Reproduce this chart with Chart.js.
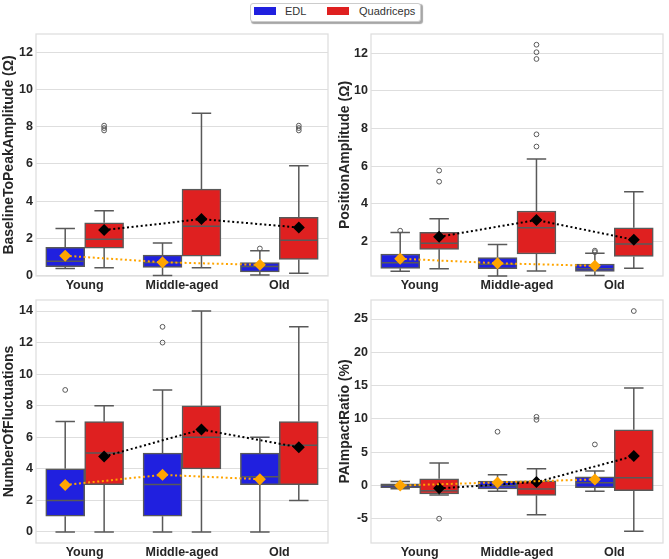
<!DOCTYPE html>
<html><head><meta charset="utf-8">
<script src="https://cdn.jsdelivr.net/npm/chart.js@4.4.0/dist/chart.umd.min.js"></script>
<style>
html,body{margin:0;padding:0;background:#fff;width:669px;height:559px;overflow:hidden;position:relative;font-family:"Liberation Sans",Arial,sans-serif}
canvas{position:absolute}
#legend{position:absolute;left:250px;top:3px;width:169px;height:17px;border:1px solid #cccccc;border-radius:3px;box-shadow:1.5px 1.5px 1px rgba(0,0,0,0.35);background:#fff;font-size:11px;color:#333}
.sw{position:absolute;top:3px;width:22px;height:8px}
.lt{position:absolute;top:1px;line-height:13px;white-space:nowrap}
</style></head><body>
<div id="legend"><span class="sw" style="left:3px;background:#2020df"></span><span class="lt" style="left:34px">EDL</span><span class="sw" style="left:76px;background:#df2020"></span><span class="lt" style="left:108px">Quadriceps</span></div>
<canvas id="c0" width="334" height="270" style="left:0px;top:24px"></canvas>
<canvas id="c1" width="335" height="270" style="left:334px;top:24px"></canvas>
<canvas id="c2" width="334" height="265" style="left:0px;top:294px"></canvas>
<canvas id="c3" width="335" height="265" style="left:334px;top:294px"></canvas>
<script>
const categories = ['Young', 'Middle-aged', 'Old'];
const seriesNames = ['EDL', 'Quadriceps'];

// Panel 1: BaselineToPeakAmplitude (Ω)
const bpTicks = [0, 2, 4, 6, 8, 10, 12];
const bpEdlLow = [0.38, 0.0, 0.02];
const bpEdlQ1 = [0.47, 0.43, 0.19];
const bpEdlMed = [0.77, 0.70, 0.48];
const bpEdlQ3 = [1.51, 1.09, 0.69];
const bpEdlHigh = [2.52, 1.74, 1.33];
const bpEdlOut = [[], [], [1.45]];
const bpEdlMean = [1.06, 0.71, 0.57];
const bpQuadLow = [0.41, 0.41, 0.12];
const bpQuadQ1 = [1.47, 1.04, 0.86];
const bpQuadMed = [1.95, 2.64, 1.90];
const bpQuadQ3 = [2.83, 4.64, 3.12];
const bpQuadHigh = [3.48, 8.73, 5.90];
const bpQuadOut = [[8.06, 7.93, 7.80], [], [8.06, 7.93, 7.80]];
const bpQuadMean = [2.44, 3.03, 2.58];

// Panel 2: PositionAmplitude (Ω)
const paTicks = [2, 4, 6, 8, 10, 12];
const paEdlLow = [0.40, 0.15, 0.18];
const paEdlQ1 = [0.56, 0.54, 0.39];
const paEdlMed = [0.85, 0.78, 0.54];
const paEdlQ3 = [1.32, 1.13, 0.79];
const paEdlHigh = [2.46, 1.82, 1.36];
const paEdlOut = [[2.56], [], [1.50, 1.42]];
const paEdlMean = [1.07, 0.83, 0.69];
const paQuadLow = [0.54, 0.42, 0.56];
const paQuadQ1 = [1.57, 1.32, 1.19];
const paQuadMed = [1.89, 2.72, 1.85];
const paQuadQ3 = [2.48, 3.61, 2.72];
const paQuadHigh = [3.20, 6.38, 4.64];
const paQuadOut = [[5.76, 5.17], [12.46, 12.06, 11.70, 7.69, 7.04], []];
const paQuadMean = [2.24, 3.13, 2.08];

// Panel 3: NumberOfFluctuations
const nfTicks = [0, 2, 4, 6, 8, 10, 12, 14];
const nfEdlLow = [0, 0, 0];
const nfEdlQ1 = [1, 1, 3];
const nfEdlMed = [2, 3, 3.5];
const nfEdlQ3 = [4, 5, 5];
const nfEdlHigh = [7, 9, 6];
const nfEdlOut = [[9], [12, 13], []];
const nfEdlMean = [2.98, 3.62, 3.34];
const nfQuadLow = [0, 0, 2];
const nfQuadQ1 = [3, 4, 3];
const nfQuadMed = [5, 6, 5.5];
const nfQuadQ3 = [7, 8, 7];
const nfQuadHigh = [8, 14, 13];
const nfQuadOut = [[], [], []];
const nfQuadMean = [4.78, 6.49, 5.37];

// Panel 4: PAImpactRatio (%)
const prTicks = [-5, 0, 5, 10, 15, 20, 25];
const prEdlLow = [-0.5, -0.9, -0.9];
const prEdlQ1 = [-0.35, -0.55, -0.35];
const prEdlMed = [0.0, -0.05, 0.4];
const prEdlQ3 = [0.25, 0.65, 1.3];
const prEdlHigh = [0.6, 1.6, 2.15];
const prEdlOut = [[], [8.06], [6.15]];
const prEdlMean = [-0.02, 0.45, 0.9];
const prQuadLow = [-1.45, -4.4, -6.9];
const prQuadQ1 = [-1.3, -1.5, -0.8];
const prQuadMed = [-0.8, -0.55, 1.15];
const prQuadQ3 = [1.0, 0.7, 8.35];
const prQuadHigh = [3.36, 2.5, 14.65];
const prQuadOut = [[-5.0], [10.3, 9.85], [26.2]];
const prQuadMean = [-0.45, 0.5, 4.4];

const EDL_COLOR = '#2020df';
const QUAD_COLOR = '#df2020';
const EDGE = '#595959';
const GRID = '#dedede';
const TEXT = '#262626';
const FONT = '"Liberation Sans", Arial, sans-serif';
Chart.defaults.font.family = FONT;

// series offset within a category (dodge): EDL left, Quadriceps right
const DODGE = [-0.2, 0.2];

const boxPlugin = {
  id: 'boxExtras',
  beforeDatasetsDraw(chart) {
    const a = chart.chartArea, ctx = chart.ctx;
    ctx.save();
    ctx.strokeStyle = GRID;
    ctx.lineWidth = 1.25;
    ctx.strokeRect(a.left, a.top, a.right - a.left, a.bottom - a.top);
    ctx.restore();
  },
  afterDatasetDraw(chart, args) {
    const ds = chart.data.datasets[args.index];
    if (!ds.stats) return;
    const s = ds.stats, y = chart.scales.y, ctx = chart.ctx;
    ctx.save();
    ctx.strokeStyle = EDGE;
    ctx.lineWidth = 1.5;
    args.meta.data.forEach((bar, i) => {
      const p = bar.getProps(['x', 'width'], true);
      const cx = p.x, hw = p.width / 2;
      const pq1 = y.getPixelForValue(s.q1[i]);
      const pq3 = y.getPixelForValue(s.q3[i]);
      const plo = y.getPixelForValue(s.low[i]);
      const phi = y.getPixelForValue(s.high[i]);
      const pmed = y.getPixelForValue(s.med[i]);
      ctx.beginPath();
      ctx.moveTo(cx, pq3); ctx.lineTo(cx, phi);
      ctx.moveTo(cx, pq1); ctx.lineTo(cx, plo);
      ctx.moveTo(cx - hw / 2, phi); ctx.lineTo(cx + hw / 2, phi);
      ctx.moveTo(cx - hw / 2, plo); ctx.lineTo(cx + hw / 2, plo);
      ctx.moveTo(cx - hw + 1, pmed); ctx.lineTo(cx + hw - 1, pmed);
      ctx.stroke();
    });
    ctx.restore();
  }
};

function makeChart(id, p) {
  const boxDs = (name, color, s, off) => ({
    type: 'bar', label: name,
    data: s.q1.map((v, i) => ({x: i + off, y: [v, s.q3[i]]})),
    backgroundColor: color, borderColor: EDGE, borderWidth: 1.5, borderSkipped: false,
    grouped: false, categoryPercentage: 1.0, barPercentage: 1.0,
    xAxisID: 'x', yAxisID: 'y', order: 5, stats: s
  });
  const outPts = (arr, off) => {
    const pts = [];
    arr.forEach((list, i) => list.forEach(v => pts.push({x: i + off, y: v})));
    return pts;
  };
  const meanDs = (vals, off, color) => ({
    type: 'line',
    data: vals.map((v, i) => ({x: i + off, y: v})),
    xAxisID: 'x', yAxisID: 'y',
    borderColor: color, borderWidth: 2, borderDash: [2, 2.6], fill: false, tension: 0,
    pointStyle: 'rectRot', pointRadius: 6, pointBackgroundColor: color, pointBorderWidth: 0,
    order: 0
  });
  const outDs = (pts) => ({
    type: 'scatter', data: pts, xAxisID: 'x', yAxisID: 'y', showLine: false,
    pointStyle: 'circle', pointRadius: 2.4, pointBorderWidth: 1, pointBorderColor: EDGE,
    pointBackgroundColor: 'rgba(0,0,0,0)', order: 3
  });
  new Chart(document.getElementById(id), {
    type: 'bar',
    data: {
      labels: categories,
      datasets: [
        boxDs(seriesNames[0], EDL_COLOR, p.edl, DODGE[0]),
        boxDs(seriesNames[1], QUAD_COLOR, p.quad, DODGE[1]),
        outDs(outPts(p.edl.out, DODGE[0])),
        outDs(outPts(p.quad.out, DODGE[1])),
        meanDs(p.edl.mean, DODGE[0], 'orange'),
        meanDs(p.quad.mean, DODGE[1], '#000000')
      ]
    },
    options: {
      responsive: false, animation: false, devicePixelRatio: 1,
      layout: {padding: p.pad},
      plugins: {legend: {display: false}, tooltip: {enabled: false}},
      scales: {
        x: {
          type: 'linear', display: false, min: -0.5, max: 2.5, offset: false,
          afterBuildTicks(s) { s.ticks = [{value: -0.5}, {value: 2.5}]; },
          afterFit(s) { s.height = 0; s.paddingLeft = 0; s.paddingRight = 0; }
        },
        xc: {
          type: 'category', axis: 'x', position: 'bottom', labels: categories, offset: true,
          grid: {display: false, drawTicks: false}, border: {display: false},
          ticks: {font: {size: 12.5, weight: 'bold'}, color: TEXT, padding: 2, maxRotation: 0, autoSkip: false},
          afterFit(s) { s.height = p.xh; s.paddingLeft = 0; s.paddingRight = 0; }
        },
        y: {
          type: 'linear', min: p.min, max: p.max,
          grid: {color: GRID, lineWidth: 1, drawTicks: false},
          border: {display: false},
          ticks: {font: {size: 12.5, weight: 'bold'}, color: TEXT, padding: 3},
          afterBuildTicks(s) { s.ticks = p.ticks.map(v => ({value: v})); },
          afterFit(s) { s.width = p.yw; s.paddingTop = 0; s.paddingBottom = 0; },
          title: {display: true, text: p.title, color: TEXT, font: {size: 14, weight: 'bold'}, padding: {top: 1, bottom: 0}}
        }
      }
    },
    plugins: [boxPlugin]
  });
}

const stats = (low, q1, med, q3, high, out, mean) => ({low, q1, med, q3, high, out, mean});

makeChart('c0', {
  title: 'BaselineToPeakAmplitude (Ω)', min: -0.03, max: 12.99, ticks: bpTicks,
  pad: {left: 0, top: 10, right: 4, bottom: 0}, yw: 36, xh: 18,
  edl: stats(bpEdlLow, bpEdlQ1, bpEdlMed, bpEdlQ3, bpEdlHigh, bpEdlOut, bpEdlMean),
  quad: stats(bpQuadLow, bpQuadQ1, bpQuadMed, bpQuadQ3, bpQuadHigh, bpQuadOut, bpQuadMean)
});
makeChart('c1', {
  title: 'PositionAmplitude (Ω)', min: 0.15, max: 13.03, ticks: paTicks,
  pad: {left: 2, top: 10, right: 4, bottom: 0}, yw: 35, xh: 18,
  edl: stats(paEdlLow, paEdlQ1, paEdlMed, paEdlQ3, paEdlHigh, paEdlOut, paEdlMean),
  quad: stats(paQuadLow, paQuadQ1, paQuadMed, paQuadQ3, paQuadHigh, paQuadOut, paQuadMean)
});
makeChart('c2', {
  title: 'NumberOfFluctuations', min: -0.7, max: 14.7, ticks: nfTicks,
  pad: {left: 0, top: 5, right: 4, bottom: 0}, yw: 36, xh: 16,
  edl: stats(nfEdlLow, nfEdlQ1, nfEdlMed, nfEdlQ3, nfEdlHigh, nfEdlOut, nfEdlMean),
  quad: stats(nfQuadLow, nfQuadQ1, nfQuadMed, nfQuadQ3, nfQuadHigh, nfQuadOut, nfQuadMean)
});
makeChart('c3', {
  title: 'PAImpactRatio (%)', min: -8.66, max: 27.86, ticks: prTicks,
  pad: {left: 2, top: 5, right: 4, bottom: 0}, yw: 35, xh: 16,
  edl: stats(prEdlLow, prEdlQ1, prEdlMed, prEdlQ3, prEdlHigh, prEdlOut, prEdlMean),
  quad: stats(prQuadLow, prQuadQ1, prQuadMed, prQuadQ3, prQuadHigh, prQuadOut, prQuadMean)
});
</script>
</body></html>
